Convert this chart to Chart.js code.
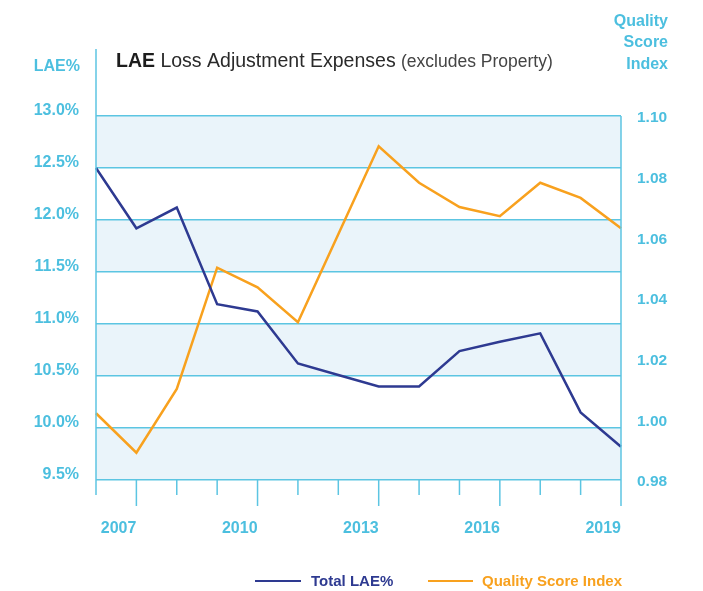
<!DOCTYPE html>
<html>
<head>
<meta charset="utf-8">
<script src="https://cdn.jsdelivr.net/npm/chart.js@4.4.1/dist/chart.umd.min.js"></script>
<style>
  html, body { margin: 0; padding: 0; background: #fff; }
  #wrap { width: 703px; height: 591px; position: relative; }
</style>
</head>
<body>
<div id="wrap"><canvas id="myChart"></canvas></div>
<script>
const years = ["2006", "2007", "2008", "2009", "2010", "2011", "2012", "2013", "2014", "2015", "2016", "2017", "2018", "2019"];
const shownYears = ["2007", "2010", "2013", "2016", "2019"];
const totalLAE = [12.5, 11.92, 12.12, 11.19, 11.12, 10.62, 10.51, 10.4, 10.4, 10.74, 10.83, 10.91, 10.15, 9.82];
const qualityIndex = [1.002, 0.989, 1.010, 1.050, 1.0435, 1.032, 1.061, 1.090, 1.078, 1.070, 1.067, 1.078, 1.073, 1.063];

const CYAN = "#4cbfdf";
const GRID = "#5cc5e2";
const BAND = "#eaf4fa";
const NAVY = "#2e3a91";
const ORANGE = "#f8a11e";
const FONT = "'Liberation Sans', Arial, sans-serif";

const extras = {
  id: "extras",
  beforeDraw(chart) {
    const { ctx, chartArea, scales } = chart;
    const y = scales.y;
    ctx.save();
    ctx.fillStyle = BAND;
    // shaded bands: 13.0-12.5, 12.0-11.5, 11.0-10.5, 10.0-9.5
    [13.0, 12.0, 11.0, 10.0].forEach((v) => {
      const top = y.getPixelForValue(v);
      const bot = y.getPixelForValue(v - 0.5);
      ctx.fillRect(chartArea.left, top, chartArea.right - chartArea.left, bot - top);
    });
    ctx.restore();
  },
  afterDraw(chart) {
    const { ctx, chartArea, scales } = chart;
    const x = scales.x;
    ctx.save();
    ctx.strokeStyle = GRID;
    ctx.lineWidth = 1.5;
    // left axis line goes up to the title
    ctx.beginPath();
    ctx.moveTo(chartArea.left, 49);
    ctx.lineTo(chartArea.left, chartArea.bottom);
    ctx.stroke();
    // right axis line
    ctx.beginPath();
    ctx.moveTo(chartArea.right, chartArea.top);
    ctx.lineTo(chartArea.right, chartArea.bottom);
    ctx.stroke();
    // year ticks
    years.forEach((yr, i) => {
      const px = x.getPixelForValue(i);
      const len = shownYears.includes(yr) ? 26 : 15;
      ctx.beginPath();
      ctx.moveTo(px, chartArea.bottom);
      ctx.lineTo(px, chartArea.bottom + len);
      ctx.stroke();
    });

    // title
    ctx.textBaseline = "alphabetic";
    ctx.textAlign = "left";
    ctx.fillStyle = "#1d1d1d";
    let tx = 116;
    ctx.font = "bold 19.5px " + FONT;
    ctx.fillText("LAE", tx, 67);
    tx += ctx.measureText("LAE ").width;
    ctx.font = "19.5px " + FONT;
    ctx.fillStyle = "#2a2a2a";
    ctx.fillText("Loss Adjustment Expenses", tx, 67);
    tx += ctx.measureText("Loss Adjustment Expenses ").width;
    ctx.font = "17.5px " + FONT;
    ctx.fillStyle = "#444";
    ctx.fillText("(excludes Property)", tx, 67);

    // axis titles
    ctx.fillStyle = CYAN;
    ctx.font = "bold 16px " + FONT;
    ctx.textAlign = "right";
    ctx.fillText("LAE%", 80, 71);
    ctx.fillText("Quality", 668, 26);
    ctx.fillText("Score", 668, 47);
    ctx.fillText("Index", 668, 69);

    // legend
    const ly = 581;
    ctx.lineWidth = 2;
    ctx.strokeStyle = NAVY;
    ctx.beginPath(); ctx.moveTo(255, ly); ctx.lineTo(301, ly); ctx.stroke();
    ctx.strokeStyle = ORANGE;
    ctx.beginPath(); ctx.moveTo(428, ly); ctx.lineTo(473, ly); ctx.stroke();
    ctx.textAlign = "left";
    ctx.textBaseline = "middle";
    ctx.font = "bold 15px " + FONT;
    ctx.fillStyle = NAVY;
    ctx.fillText(chart.data.datasets[0].label, 311, ly + 1);
    ctx.fillStyle = ORANGE;
    ctx.fillText(chart.data.datasets[1].label, 482, ly + 1);
    ctx.restore();
  },
};

new Chart(document.getElementById("myChart"), {
  type: "line",
  data: {
    labels: years,
    datasets: [
      {
        label: "Total LAE%",
        data: totalLAE,
        yAxisID: "y",
        borderColor: NAVY,
        borderWidth: 2.5,
        pointRadius: 0,
        tension: 0,
      },
      {
        label: "Quality Score Index",
        data: qualityIndex,
        yAxisID: "y1",
        borderColor: ORANGE,
        borderWidth: 2.5,
        pointRadius: 0,
        tension: 0,
      },
    ],
  },
  options: {
    responsive: true,
    maintainAspectRatio: false,
    animation: false,
    layout: {
      padding: { top: 116, bottom: 51, left: 0, right: 0 },
    },
    plugins: {
      legend: { display: false },
      tooltip: { enabled: false },
    },
    scales: {
      x: {
        offset: false,
        grid: { display: false, drawTicks: false },
        border: { display: false },
        afterFit: (s) => { s.height = 60; },
        ticks: {
          autoSkip: false,
          maxRotation: 0,
          align: "end",
          padding: 39,
          color: CYAN,
          font: { family: FONT, size: 16, weight: "bold" },
          callback: function (v, i) {
            const yr = years[i];
            return shownYears.includes(yr) ? yr : "";
          },
        },
      },
      y: {
        position: "left",
        min: 9.5,
        max: 13.0,
        afterFit: (s) => { s.width = 96; },
        grid: { color: GRID, lineWidth: 1.5, drawTicks: false },
        border: { display: false },
        ticks: {
          stepSize: 0.5,
          padding: 17,
          labelOffset: -5,
          color: CYAN,
          font: { family: FONT, size: 16, weight: "bold" },
          callback: (v) => Number(v).toFixed(1) + "%",
        },
      },
      y1: {
        position: "right",
        min: 0.98,
        max: 1.10,
        afterFit: (s) => { s.width = 82; },
        grid: { display: false, drawTicks: false },
        border: { display: false },
        ticks: {
          stepSize: 0.02,
          padding: 16,
          labelOffset: 2,
          color: CYAN,
          font: { family: FONT, size: 15.5, weight: "bold" },
          callback: (v) => Number(v).toFixed(2),
        },
      },
    },
  },
  plugins: [extras],
});
</script>
</body>
</html>
